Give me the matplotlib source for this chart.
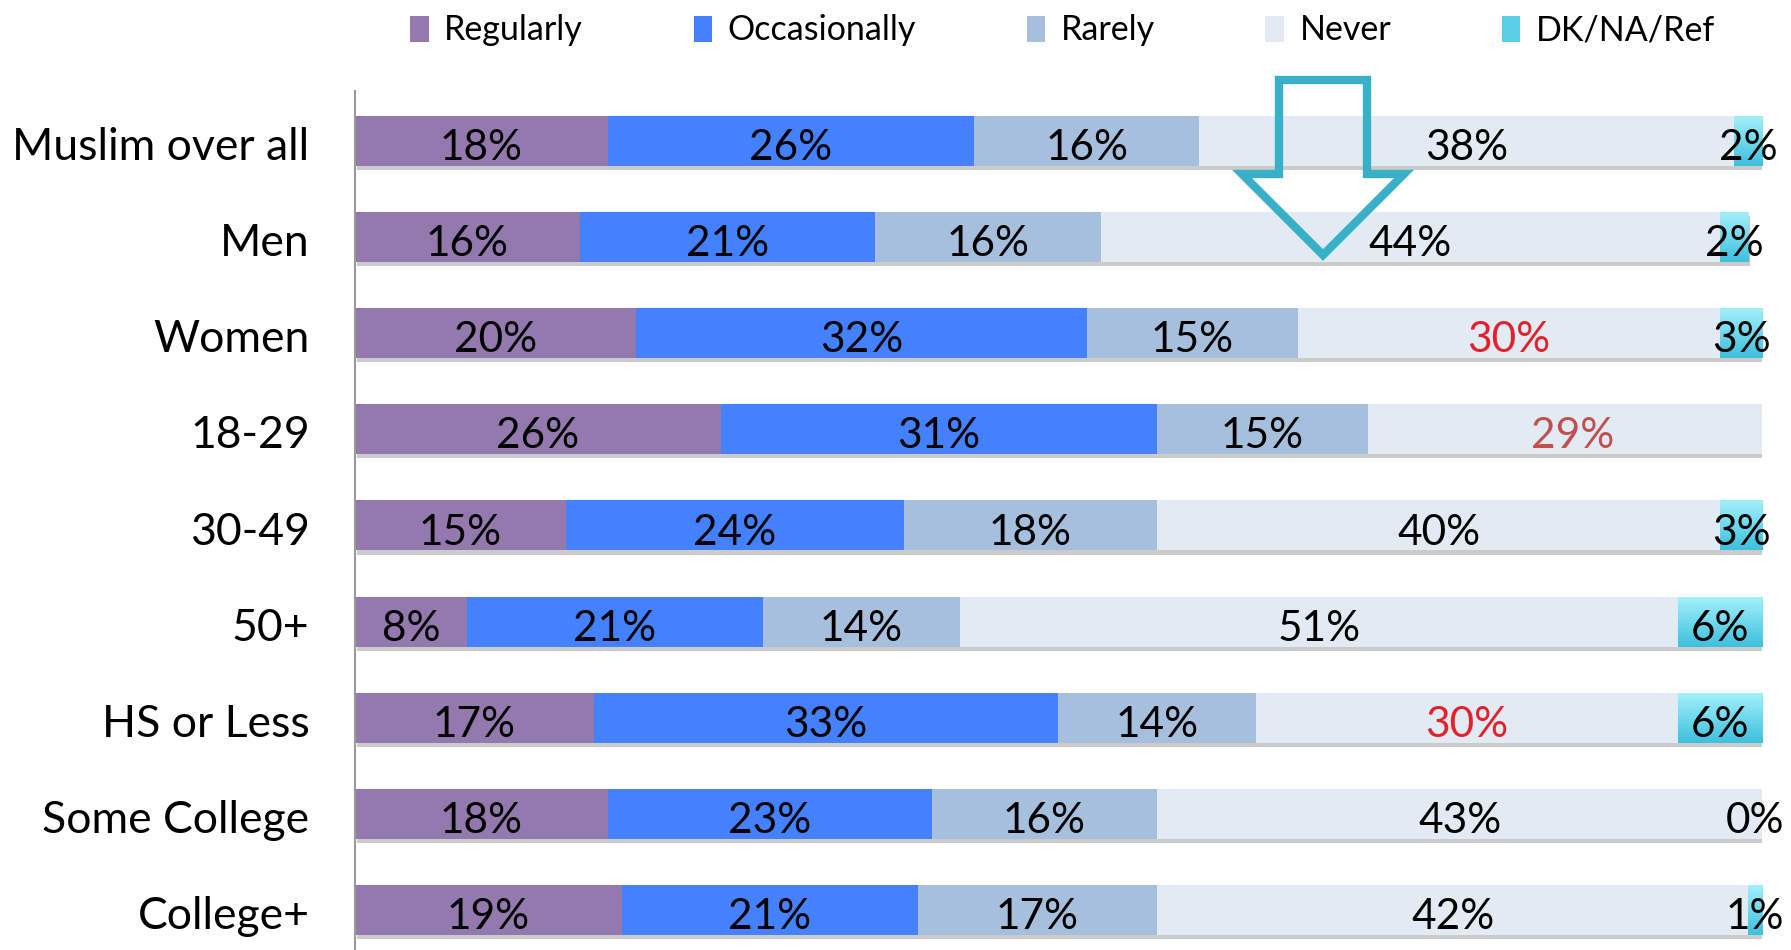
import matplotlib
matplotlib.use("Agg")
import matplotlib.pyplot as plt
import matplotlib.patheffects as pe
import matplotlib.transforms as mtransforms
from matplotlib.colors import LinearSegmentedColormap
from matplotlib.patches import Polygon
import numpy as np

""" Data """
groups = ["Muslim over all", "Men", "Women", "18-29", "30-49", "50+",
          "HS or Less", "Some College", "College+"]
series = ["Regularly", "Occasionally", "Rarely", "Never", "DK/NA/Ref"]
regularly = [18, 16, 20, 26, 15, 8, 17, 18, 19]
occasionally = [26, 21, 32, 31, 24, 21, 33, 23, 21]
rarely = [16, 16, 15, 15, 18, 14, 14, 16, 17]
never = [38, 44, 30, 29, 40, 51, 30, 43, 42]
dk = [2, 2, 3, None, 3, 6, 6, 0, 1]

colors = ["#9479AF", "#4381FF", "#A6BFDD", "#E2EAF3", "#5CCFE8"]
# labels of the "Never" column printed in red
never_label_colors = ["black", "black", "#E3202B", "#C0504D", "black",
                      "black", "#E3202B", "black", "black"]

plt.rcParams["font.family"] = ["Lato", "DejaVu Sans"]

""" Plot """
fig = plt.figure(figsize=(17.91, 9.5), dpi=100)
ax = fig.add_axes([0.198, 0.0, 0.786, 0.904])

y = np.arange(len(groups))
data = [regularly, occasionally, rarely, never, dk]
left = np.zeros(len(groups))
shadow = [pe.SimplePatchShadow(offset=(1.5, -3), shadow_rgbFace="#999999", alpha=0.5),
          pe.Normal()]
dk_cmap = LinearSegmentedColormap.from_list("dk", ["#A4F1FB", "#3EC0DE"])
grad = np.linspace(0, 1, 64).reshape(-1, 1)
bar_h = 0.52

for k, (name, vals) in enumerate(zip(series, data)):
    v = np.array([0 if x is None else x for x in vals], dtype=float)
    bars = ax.barh(y, v, left=left, height=bar_h, color=colors[k],
                   label=name, zorder=2)
    for i, b in enumerate(bars):
        b.set_path_effects(shadow)
        if k == 4 and v[i] > 0:
            # vertical gradient fill like the original
            im = ax.imshow(grad, cmap=dk_cmap, aspect="auto", zorder=3,
                           extent=(left[i], left[i] + v[i],
                                   y[i] + bar_h / 2, y[i] - bar_h / 2))
            im.set_clip_path(b)
    for i, x in enumerate(vals):
        if x is None:
            continue
        c = never_label_colors[i] if k == 3 else "black"
        cx = left[i] + v[i] / 2
        if k == 4 and v[i] == 0:
            cx = left[i] - 0.5
        ax.text(cx, y[i] + 0.2, f"{x}%", ha="center", va="baseline",
                fontsize=30.5, color=c, zorder=5)
    left += v

ax.set_xlim(0, 100)
ax.set_ylim(8.415, -0.514)
ax.set_yticks([])
ax.set_xticks([])

# category labels
trans = mtransforms.blended_transform_factory(ax.transAxes, ax.transData)
for i, g in enumerate(groups):
    ax.text(-0.032, y[i] + 0.2, g, transform=trans, ha="right",
            va="baseline", fontsize=32)

for s in ["top", "right", "bottom"]:
    ax.spines[s].set_visible(False)
ax.spines["left"].set_color("#999999")
ax.spines["left"].set_linewidth(1.5)

leg = fig.legend(loc="upper left", bbox_to_anchor=(0.212, 1.017), ncol=5,
                 frameon=False, fontsize=24.5, handlelength=0.55, handleheight=0.8,
                 handletextpad=0.45, columnspacing=3.25)
for h in leg.legend_handles:
    h.set_path_effects([])

""" Arrow callout (figure pixels) """
W, H = 1791, 950
pts = [(1279, 80), (1367, 80), (1367, 174), (1404, 174), (1323, 255),
       (1242, 174), (1279, 174)]
pts = [(px / W, 1 - py / H) for px, py in pts]
arrow = Polygon(pts, closed=True, fill=False, edgecolor="#38B0C8",
                linewidth=6, joinstyle="miter", transform=fig.transFigure,
                zorder=10)
fig.add_artist(arrow)

fig.savefig("out.png", dpi=100)
